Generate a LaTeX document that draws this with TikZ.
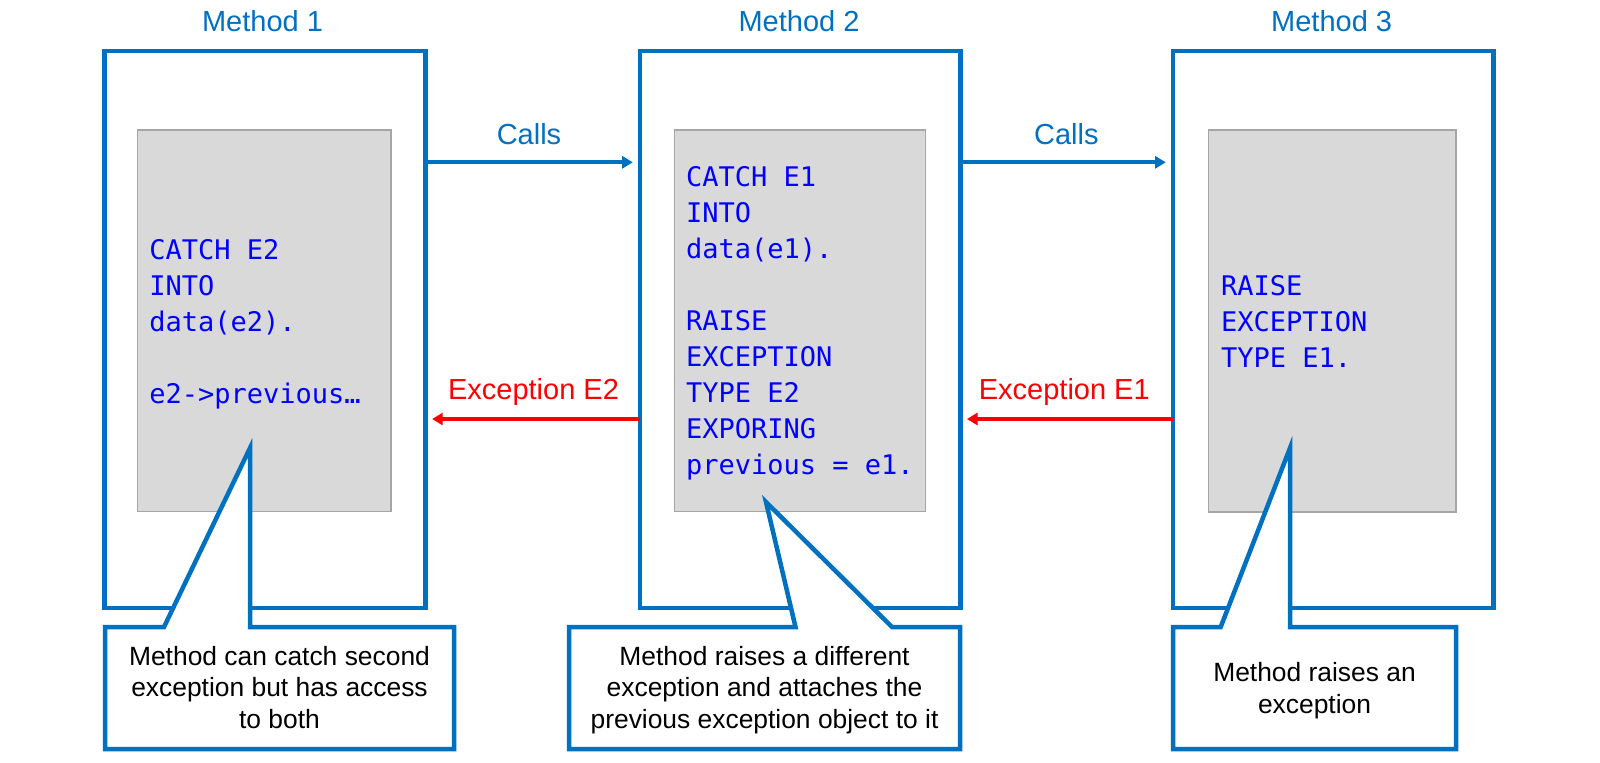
\documentclass[tikz,border=0pt]{standalone}
\usepackage{fontspec}
\setmainfont{Liberation Sans}
\newfontfamily\codefont{DejaVu Sans Mono}
\usetikzlibrary{arrows.meta,fit,calc}
\definecolor{msblue}{RGB}{0,112,192}
\definecolor{codeblue}{RGB}{0,0,255}
\definecolor{grayfill}{RGB}{217,217,217}
\definecolor{grayline}{RGB}{166,166,166}
\definecolor{exred}{RGB}{255,0,0}
\begin{document}
\begin{tikzpicture}[x=0.5pt,y=-0.5pt,
  outerbox/.style={draw=msblue, line width=2.25pt, inner sep=0pt, outer sep=0pt},
  codebox/.style={draw=grayline, fill=grayfill, line width=0.65pt, inner sep=0pt, outer sep=0pt},
  title/.style={text=msblue, font=\fontsize{14.5}{17}\selectfont, anchor=base, inner sep=0pt},
  calllbl/.style={text=msblue, font=\fontsize{14.5}{17}\selectfont, anchor=base, inner sep=0pt},
  exlbl/.style={text=exred, font=\fontsize{14.5}{17}\selectfont, anchor=base, inner sep=0pt},
  code/.style={text=codeblue, font=\codefont\fontsize{13.5}{18}\selectfont, anchor=base west, inner sep=0pt},
  callout/.style={draw=msblue, fill=white, line width=2.25pt, line join=miter},
  callouttext/.style={font=\fontsize{13.2}{15.85}\selectfont, anchor=base, inner sep=0pt},
  callarrow/.style={draw=msblue, line width=2.1pt, -{Triangle[length=5.3pt,width=6pt]}, shorten >=3.6pt},
  exarrow/.style={draw=exred, line width=2.1pt, -{Triangle[length=5.3pt,width=6pt]}, shorten >=3.3pt}
]
\useasboundingbox (0,0) rectangle (1600,762);

% outer method boxes
\node[outerbox, fit={(104.5,51) (425.5,608)}] (m1) {};
\node[outerbox, fit={(640,51) (960.3,608)}] (m2) {};
\node[outerbox, fit={(1173,51) (1493.7,608)}] (m3) {};

% gray code boxes
\node[codebox, fit={(137.7,130) (391,511.7)}] (g1) {};
\node[codebox, fit={(674.3,130) (925.3,511.7)}] (g2) {};
\node[codebox, fit={(1208.3,130) (1456,512)}] (g3) {};

% titles
\node[title] (t1) at (262.5,31.7) {Method 1};
\node[title] (t2) at (799,31.7) {Method 2};
\node[title] (t3) at (1331.6,31.7) {Method 3};

% code
\node[code] (k1) at (149,259.3) {\begin{tabular}[t]{@{}l@{}}CATCH E2\\INTO\\data(e2).\\ \\e2->previous…\end{tabular}};
\node[code] (k2) at (685.7,186.7) {\begin{tabular}[t]{@{}l@{}}CATCH E1\\INTO\\data(e1).\\ \\RAISE\\EXCEPTION\\TYPE E2\\EXPORING\\previous = e1.\end{tabular}};
\node[code] (k3) at (1220.7,295) {\begin{tabular}[t]{@{}l@{}}RAISE\\EXCEPTION\\TYPE E1.\end{tabular}};

% callout tips
\coordinate (p1) at (250,448);
\coordinate (p2) at (766,502);
\coordinate (p3) at (1290,448);

% callouts
\draw[callout] (105,627) -- (164,627) -- (p1) -- (250,627) -- (454,627) -- (454,749) -- (105,749) -- cycle;
\draw[callout] (569,627) -- (795.5,627) -- (p2) -- (892,627) -- (960,627) -- (960,749) -- (569,749) -- cycle;
\draw[callout] (1173,627) -- (1220.7,627) -- (p3) -- (1290,627) -- (1456,627) -- (1456,749) -- (1173,749) -- cycle;

\node[callouttext] (c1) at (279.5,665) {\begin{tabular}[t]{@{}c@{}}Method can catch second\\exception but has access\\to both\end{tabular}};
\node[callouttext] (c2) at (764.5,665) {\begin{tabular}[t]{@{}c@{}}Method raises a different\\exception and attaches the\\previous exception object to it\end{tabular}};
\node[callouttext] (c3) at (1314.5,681.7) {\begin{tabular}[t]{@{}c@{}}Method raises an\\exception\end{tabular}};

% arrows
\draw[callarrow] (m1.east |- 0,162.3) -- (m2.west |- 0,162.3);
\draw[callarrow] (m2.east |- 0,162.3) -- (m3.west |- 0,162.3);
\draw[exarrow] (m2.west |- 0,419) -- (m1.east |- 0,419);
\draw[exarrow] (m3.west |- 0,419) -- (m2.east |- 0,419);

% arrow labels
\node[calllbl] (l1) at (529,144) {Calls};
\node[calllbl] (l2) at (1066.3,144) {Calls};
\node[exlbl] (l3) at (533.5,399) {Exception E2};
\node[exlbl] (l4) at (1064.3,399) {Exception E1};
\end{tikzpicture}
\end{document}
